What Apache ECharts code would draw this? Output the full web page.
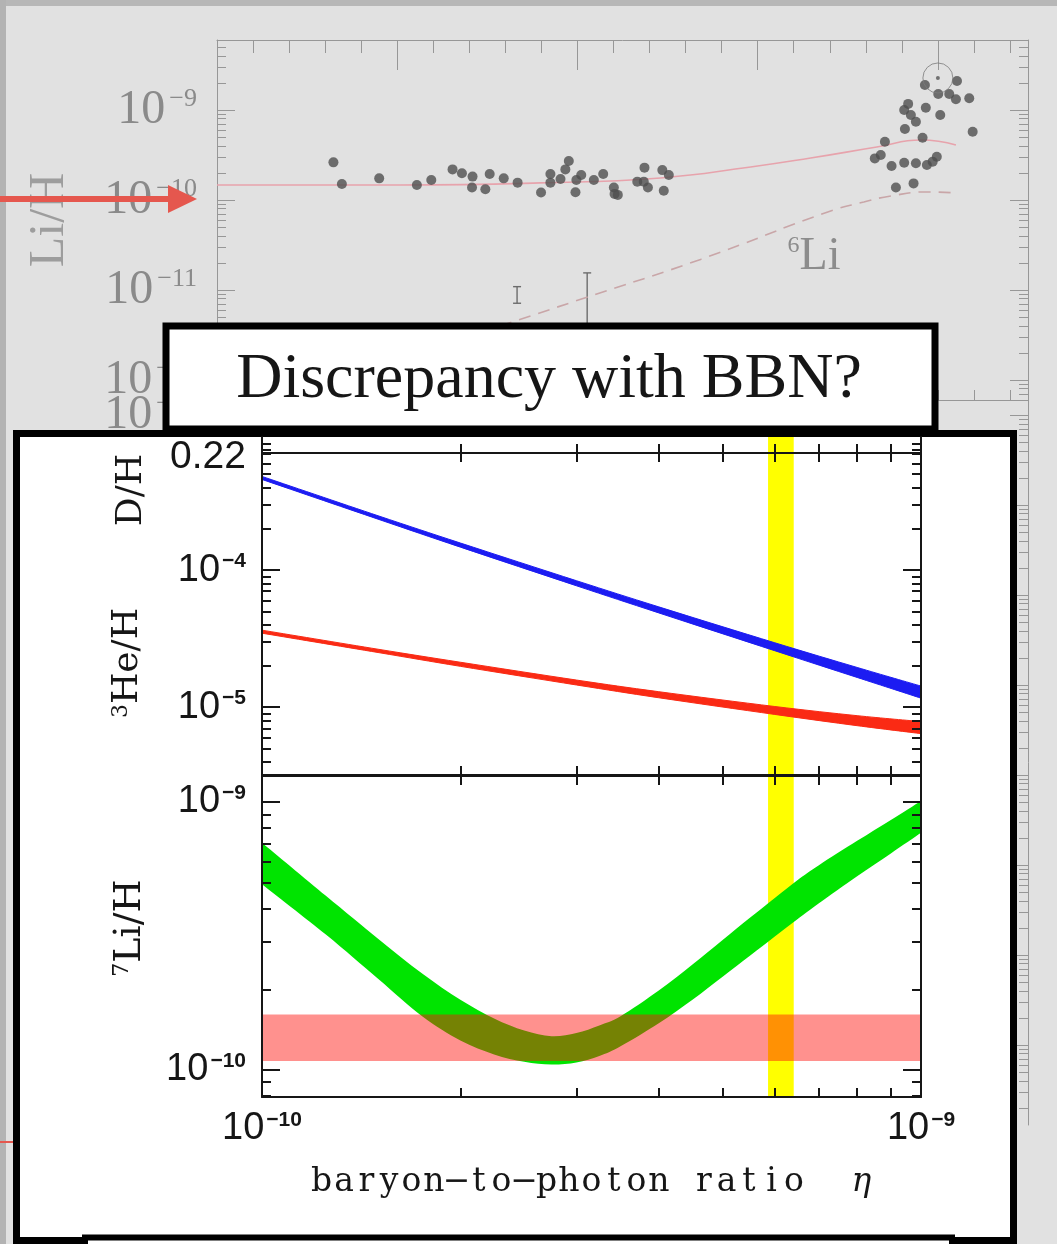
<!DOCTYPE html>
<html>
<head>
<meta charset="UTF-8">
<title>Discrepancy with BBN?</title>
<script src="https://cdn.jsdelivr.net/npm/echarts@6/dist/echarts.min.js"></script>
<style>
  html, body { margin: 0; padding: 0; background: #e1e1e1; }
  #chart { width: 1057px; height: 1244px; }
</style>
</head>
<body>
<div id="chart"></div>
<script>
// ---- background plot: Li/H in halo stars vs [Fe/H] ----
var starFe = [-3.354, -3.307, -3.100, -2.891, -2.811, -2.693, -2.641, -2.582, -2.585, -2.511,
  -2.487, -2.409, -2.332, -2.202, -2.150, -2.150, -2.094, -2.067, -2.048, -2.011,
  -2.006, -1.979, -1.909, -1.857, -1.798, -1.794, -1.776, -1.668, -1.628, -1.609,
  -1.521, -1.529, -1.493, -1.632,
  -0.072, 0.106, 0.002, 0.063, 0.100, 0.174, -0.165, -0.187, -0.150, -0.122,
  -0.067, 0.013, -0.183, -0.085, 0.193, -0.294, -0.317, -0.350, -0.257, -0.187,
  -0.122, -0.061, -0.029, -0.006, -0.233, -0.135];
var starLi = [2.62e-10, 1.51e-10, 1.74e-10, 1.47e-10, 1.67e-10, 2.19e-10, 1.98e-10, 1.82e-10, 1.38e-10, 1.32e-10,
  1.95e-10, 1.74e-10, 1.56e-10, 1.21e-10, 1.95e-10, 1.56e-10, 1.71e-10, 2.19e-10, 2.71e-10, 1.22e-10,
  1.67e-10, 1.90e-10, 1.67e-10, 1.95e-10, 1.38e-10, 1.17e-10, 1.14e-10, 1.60e-10, 2.29e-10, 1.38e-10,
  1.27e-10, 2.15e-10, 1.90e-10, 1.60e-10,
  1.90e-9, 2.10e-9, 1.51e-9, 1.51e-9, 1.32e-9, 1.35e-9, 1.17e-9, 1.00e-9, 8.80e-10, 7.41e-10,
  1.06e-9, 8.80e-10, 6.15e-10, 4.92e-10, 5.74e-10, 4.45e-10, 3.16e-10, 2.90e-10, 2.39e-10, 2.60e-10,
  2.56e-10, 2.45e-10, 2.67e-10, 3.03e-10, 1.38e-10, 1.53e-10];
var plateauFe = [-4.0, -2.983, -2.206, -1.539, -1.039, -0.706, -0.339, -0.094, 0.100];
var plateauLi = [1.47e-10, 1.47e-10, 1.55e-10, 1.76e-10, 2.33e-10, 2.93e-10, 3.88e-10, 4.64e-10, 4.08e-10];
var li6Fe = [-2.428, -1.956, -1.317, -0.611, -0.411, -0.261, -0.056, 0.100];
var li6Li = [3.98e-12, 8.21e-12, 2.19e-11, 7.36e-11, 9.50e-11, 1.11e-10, 1.23e-10, 1.20e-10];
var limitFe = [-2.335, -1.946];
var limitLo = [7.13e-12, 3.6e-12];
var limitHi = [1.09e-11, 1.55e-11];
var sunFe = [0.0];
var sunLi = [2.27e-9];
var topTickLabels = [1e-9, 1e-10, 1e-11, 1e-12];

// ---- BBN predictions vs baryon-to-photon ratio ----
var etaDHe = [1.0e-10, 1.5e-10, 2.0e-10, 3.0e-10, 4.0e-10, 6.0e-10, 8.0e-10, 1.0e-9];
var dhHi = [4.819e-4, 2.489e-4, 1.574e-4, 8.356e-5, 5.383e-5, 2.944e-5, 1.945e-5, 1.422e-5];
var dhLo = [4.581e-4, 2.350e-4, 1.469e-4, 7.674e-5, 4.864e-5, 2.576e-5, 1.644e-5, 1.161e-5];
var he3Hi = [3.639e-5, 2.642e-5, 2.123e-5, 1.574e-5, 1.294e-5, 1.009e-5, 8.650e-6, 7.834e-6];
var he3Lo = [3.459e-5, 2.500e-5, 1.982e-5, 1.449e-5, 1.169e-5, 8.831e-6, 7.311e-6, 6.397e-6];
var etaLi = [1.0e-10, 1.25e-10, 1.5e-10, 1.75e-10, 2.0e-10, 2.25e-10, 2.5e-10, 2.75e-10, 3.0e-10, 3.25e-10,
  3.5e-10, 4.0e-10, 4.5e-10, 5.0e-10, 5.5e-10, 6.0e-10, 6.5e-10, 7.0e-10, 8.0e-10, 9.0e-10, 1.0e-9];
var li7Hi = [7.047e-10, 4.467e-10, 3.090e-10, 2.291e-10, 1.828e-10, 1.556e-10, 1.403e-10, 1.337e-10, 1.374e-10, 1.466e-10,
  1.585e-10, 1.977e-10, 2.472e-10, 3.055e-10, 3.698e-10, 4.385e-10, 5.117e-10, 5.808e-10, 7.161e-10, 8.570e-10, 1.009e-9];
var li7Lo = [4.932e-10, 3.199e-10, 2.188e-10, 1.585e-10, 1.288e-10, 1.143e-10, 1.072e-10, 1.047e-10, 1.067e-10, 1.127e-10,
  1.225e-10, 1.493e-10, 1.828e-10, 2.228e-10, 2.667e-10, 3.148e-10, 3.656e-10, 4.188e-10, 5.284e-10, 6.427e-10, 7.674e-10];
var obsLi = [1.08e-10, 1.61e-10];     // observed plateau band
var etaCMB = [5.86e-10, 6.41e-10];    // CMB band
var etaTickLabels = [1e-10, 1e-9];
var dhTickLabels = [1e-4, 1e-5];
var liTickLabels = [1e-9, 1e-10];
var heTickLabels = [0.22];

var lg = function (v) { return Math.round(Math.log10(v) * 1e6) / 1e6; };
var MINOR_K = [2, 3, 4, 5, 6, 7, 8, 9];

function decadeTicks(lo, hi, ks) {
  var out = [];
  for (var n = Math.floor(lo) - 1; n <= Math.ceil(hi); n++) {
    ks.forEach(function (k) {
      var v = Math.round((n + Math.log10(k)) * 1e6) / 1e6;
      if (v >= lo - 1e-9 && v <= hi + 1e-9) out.push(v);
    });
  }
  return out;
}
function powLabel(v) { return '{b|10}{e|\u2212' + Math.round(-v) + '}'; }

// smooth path through screen points (Catmull-Rom as cubic Bezier)
function f2(v) { return v.toFixed(2); }
function spline(p, cmd) {
  var s = cmd + f2(p[0][0]) + ' ' + f2(p[0][1]);
  for (var i = 0; i < p.length - 1; i++) {
    var a = p[i - 1] || p[i], b = p[i], c = p[i + 1], d = p[i + 2] || c;
    s += ' C' + f2(b[0] + (c[0] - a[0]) / 6) + ' ' + f2(b[1] + (c[1] - a[1]) / 6) + ' ' +
      f2(c[0] - (d[0] - b[0]) / 6) + ' ' + f2(c[1] - (d[1] - b[1]) / 6) + ' ' + f2(c[0]) + ' ' + f2(c[1]);
  }
  return s;
}
function bandSeries(x, lo, hi, xi, yi, color, edge, z) {
  return {
    type: 'custom', xAxisIndex: xi, yAxisIndex: yi, z: z,
    data: x.map(function (e, i) { return [lg(e), lg(lo[i]), lg(hi[i])]; }),
    encode: { x: 0, y: [1, 2] },
    renderItem: function (params, api) {
      if (params.dataIndexInside !== 0) return null;
      var up = [], dn = [];
      for (var i = 0; i < params.dataInsideLength; i++) {
        up.push(api.coord([api.value(0, i), api.value(2, i)]));
        dn.push(api.coord([api.value(0, i), api.value(1, i)]));
      }
      return { type: 'path', shape: { pathData: spline(up, 'M') + ' ' + spline(dn.reverse(), 'L') + ' Z' },
        style: { fill: color, stroke: edge ? color : null, lineWidth: edge || 0 } };
    }
  };
}

var GRAY = '#979797';
var INK = '#161616';
var topRich = {
  b: { fontFamily: 'Liberation Serif', fontSize: 48, color: '#8a8a8a', verticalAlign: 'bottom' },
  e: { fontFamily: 'Liberation Serif', fontSize: 26, color: '#8a8a8a', verticalAlign: 'top', padding: [0, 0, 0, 4] }
};
var mainRich = {
  b: { fontFamily: 'Liberation Sans', fontSize: 38, color: INK, verticalAlign: 'bottom' },
  e: { fontFamily: 'Liberation Sans', fontSize: 21, fontWeight: 'bold', color: INK, verticalAlign: 'top', padding: [0, 0, 0, 2] }
};
var xRich = {
  b: { fontFamily: 'Liberation Sans', fontSize: 38, color: INK, verticalAlign: 'bottom' },
  e: { fontFamily: 'Liberation Sans', fontSize: 21, fontWeight: 'bold', color: INK, verticalAlign: 'top', padding: [0, 0, 0, 2] }
};
var heRich = { b: { fontFamily: 'Liberation Sans', fontSize: 39, color: INK, padding: [8, 0, 0, 0] } };

function axis(o) {
  var a = {
    type: 'value', gridIndex: o.grid, position: o.pos, min: o.min, max: o.max, z: o.z,
    axisLine: { show: o.line !== false, onZero: false, lineStyle: { color: o.color, width: o.lw } },
    axisTick: { show: !!o.ticks, inside: true, length: o.len, customValues: o.ticks,
      lineStyle: { color: o.color, width: o.tw || o.lw } },
    axisLabel: { show: false },
    splitLine: { show: false }
  };
  if (o.labels) {
    a.axisLabel = { show: true, customValues: o.labels, margin: o.margin, formatter: o.fmt || powLabel,
      rich: o.rich };
  }
  return a;
}

// tick positions
var feMajor = [-4, -3, -2, -1, 0];
var feMinor = [];
for (var i = -20; i <= 2; i++) { if (i % 5 !== 0) feMinor.push(Math.round(i * 0.2 * 10) / 10); }
var etaTicks = [1, 2, 3, 4, 5, 6, 7, 8, 9, 10].map(function (k) { return lg(k * 1e-10); });
var g0Y = [-12.222, -8.222], g1Y = [-17.889, -9.833];
var dhY = [-5.496, -3.146], liY = [-10.101, -8.903], heY = [0.22, 0.2225], etaX = [-10, -9];

var xAxes = [
  axis({ grid: 0, pos: 'top', min: -4, max: 0.5, z: 1, color: GRAY, lw: 1, ticks: feMajor, len: 30 }),
  axis({ grid: 0, pos: 'top', min: -4, max: 0.5, z: 1, color: GRAY, lw: 1, line: false, ticks: feMinor, len: 13 }),
  axis({ grid: 0, pos: 'bottom', min: -4, max: 0.5, z: 1, color: GRAY, lw: 1, ticks: feMinor.concat(feMajor), len: 10 }),
  { type: 'value', gridIndex: 1, min: 0, max: 1, show: false },
  axis({ grid: 2, pos: 'bottom', min: etaX[0], max: etaX[1], z: 15, color: INK, lw: 2, ticks: etaTicks, len: 9 }),
  axis({ grid: 3, pos: 'top', min: etaX[0], max: etaX[1], z: 15, color: INK, lw: 2, ticks: etaTicks, len: 9 }),
  axis({ grid: 3, pos: 'bottom', min: etaX[0], max: etaX[1], z: 15, color: INK, lw: 2, ticks: etaTicks, len: 9 }),
  axis({ grid: 4, pos: 'top', min: etaX[0], max: etaX[1], z: 15, color: INK, lw: 2, ticks: etaTicks, len: 9 }),
  axis({ grid: 4, pos: 'bottom', min: etaX[0], max: etaX[1], z: 15, color: INK, lw: 2, ticks: etaTicks, len: 9,
    labels: etaTickLabels.map(lg), margin: 13, rich: xRich })
];
var xTitle = 'baryon\u2212to\u2212photon ratio  ';
xAxes[8].name = xTitle.split('').map(function (c) { return '{m|' + c + '}'; }).join('') + '{g|\u03b7}';
xAxes[8].nameLocation = 'middle';
xAxes[8].nameGap = 69;
xAxes[8].nameTextStyle = { rich: {
  m: { width: 22.5, align: 'center', fontFamily: 'DejaVu Serif', fontSize: 33, color: INK },
  g: { width: 22.5, align: 'center', fontFamily: 'DejaVu Serif', fontStyle: 'italic', fontSize: 33, color: INK }
} };

var yAxes = [
  axis({ grid: 0, pos: 'left', min: g0Y[0], max: g0Y[1], z: 1, color: GRAY, lw: 1, ticks: topTickLabels.map(lg), len: 18,
    labels: topTickLabels.map(lg), margin: 20, rich: topRich }),
  axis({ grid: 0, pos: 'left', min: g0Y[0], max: g0Y[1], z: 1, color: GRAY, lw: 1, line: false, ticks: decadeTicks(g0Y[0], g0Y[1], MINOR_K), len: 9 }),
  axis({ grid: 0, pos: 'right', min: g0Y[0], max: g0Y[1], z: 1, color: GRAY, lw: 1, ticks: decadeTicks(g0Y[0], g0Y[1], [1]), len: 18 }),
  axis({ grid: 0, pos: 'right', min: g0Y[0], max: g0Y[1], z: 1, color: GRAY, lw: 1, line: false, ticks: decadeTicks(g0Y[0], g0Y[1], MINOR_K), len: 9 }),
  axis({ grid: 1, pos: 'left', min: g1Y[0], max: g1Y[1], z: 1, color: GRAY, lw: 1, ticks: decadeTicks(g1Y[0], g1Y[1], [1]), len: 18,
    labels: [-10], margin: 20, rich: topRich }),
  axis({ grid: 1, pos: 'right', min: g1Y[0], max: g1Y[1], z: 1, color: GRAY, lw: 1, ticks: decadeTicks(g1Y[0], g1Y[1], [1]), len: 18 }),
  axis({ grid: 1, pos: 'right', min: g1Y[0], max: g1Y[1], z: 1, color: GRAY, lw: 1, line: false, ticks: decadeTicks(g1Y[0], g1Y[1], MINOR_K), len: 9 }),
  axis({ grid: 2, pos: 'left', min: heY[0], max: heY[1], z: 15, color: INK, lw: 2, ticks: [0.2205, 0.2215], len: 9,
    labels: heTickLabels, margin: 16, fmt: function () { return '{b|0.22}'; }, rich: heRich }),
  axis({ grid: 2, pos: 'right', min: heY[0], max: heY[1], z: 15, color: INK, lw: 2, ticks: [0.2205, 0.2215], len: 9 }),
  axis({ grid: 3, pos: 'left', min: dhY[0], max: dhY[1], z: 15, color: INK, lw: 2, ticks: dhTickLabels.map(lg), len: 18,
    labels: dhTickLabels.map(lg), margin: 16, rich: mainRich }),
  axis({ grid: 3, pos: 'left', min: dhY[0], max: dhY[1], z: 15, color: INK, lw: 2, line: false, ticks: decadeTicks(dhY[0], dhY[1], MINOR_K), len: 9 }),
  axis({ grid: 3, pos: 'right', min: dhY[0], max: dhY[1], z: 15, color: INK, lw: 2, ticks: dhTickLabels.map(lg), len: 18 }),
  axis({ grid: 3, pos: 'right', min: dhY[0], max: dhY[1], z: 15, color: INK, lw: 2, line: false, ticks: decadeTicks(dhY[0], dhY[1], MINOR_K), len: 9 }),
  axis({ grid: 4, pos: 'left', min: liY[0], max: liY[1], z: 15, color: INK, lw: 2, ticks: liTickLabels.map(lg), len: 18,
    labels: liTickLabels.map(lg), margin: 16, rich: mainRich }),
  axis({ grid: 4, pos: 'left', min: liY[0], max: liY[1], z: 15, color: INK, lw: 2, line: false, ticks: decadeTicks(liY[0], liY[1], MINOR_K), len: 9 }),
  axis({ grid: 4, pos: 'right', min: liY[0], max: liY[1], z: 15, color: INK, lw: 2, ticks: liTickLabels.map(lg), len: 18 }),
  axis({ grid: 4, pos: 'right', min: liY[0], max: liY[1], z: 15, color: INK, lw: 2, line: false, ticks: decadeTicks(liY[0], liY[1], MINOR_K), len: 9 })
];
yAxes[0].name = 'Li/H';
yAxes[0].nameLocation = 'middle';
yAxes[0].nameRotate = 90;
yAxes[0].nameGap = 142;
yAxes[0].nameTextStyle = { fontFamily: 'Liberation Serif', fontSize: 50, color: '#9d9d9d' };

var BLUE = '#1c1cf2', RED = '#fa2a14', GREEN = '#00e400', YELLOW = '#ffff00';
function yellowArea() {
  return {
    silent: true, z: 11, label: { show: false }, itemStyle: { color: YELLOW, opacity: 1 },
    data: [[{ xAxis: lg(etaCMB[0]) }, { xAxis: lg(etaCMB[1]) }]]
  };
}

var series = [
  { type: 'line', xAxisIndex: 0, yAxisIndex: 0, z: 1, smooth: true, symbol: 'none',
    data: plateauFe.map(function (f, i) { return [f, lg(plateauLi[i])]; }),
    lineStyle: { color: '#e7a3ac', width: 1.6 } },
  { type: 'line', xAxisIndex: 0, yAxisIndex: 0, z: 1, smooth: true, symbol: 'none',
    data: li6Fe.map(function (f, i) { return [f, lg(li6Li[i])]; }),
    lineStyle: { color: '#c9a6a8', width: 1.6, type: [12, 8] } },
  { type: 'scatter', xAxisIndex: 0, yAxisIndex: 0, z: 1, symbolSize: 10,
    data: starFe.map(function (f, i) { return [f, lg(starLi[i])]; }),
    itemStyle: { color: '#4f4f4f' } },
  { type: 'custom', xAxisIndex: 0, yAxisIndex: 0, z: 1,
    data: limitFe.map(function (f, i) { return [f, lg(limitLo[i]), lg(limitHi[i])]; }),
    encode: { x: 0, y: [1, 2] },
    renderItem: function (params, api) {
      var lo = api.coord([api.value(0), api.value(1)]);
      var hi = api.coord([api.value(0), api.value(2)]);
      var st = { stroke: '#6c6c6c', lineWidth: 1.4 };
      return { type: 'group', children: [
        { type: 'line', shape: { x1: lo[0], y1: lo[1], x2: hi[0], y2: hi[1] }, style: st },
        { type: 'line', shape: { x1: lo[0] - 4, y1: lo[1], x2: lo[0] + 4, y2: lo[1] }, style: st },
        { type: 'line', shape: { x1: hi[0] - 4, y1: hi[1], x2: hi[0] + 4, y2: hi[1] }, style: st }
      ] };
    } },
  { type: 'scatter', xAxisIndex: 0, yAxisIndex: 0, z: 1, symbolSize: 30,
    data: sunFe.map(function (f, i) { return [f, lg(sunLi[i])]; }),
    itemStyle: { color: 'rgba(0,0,0,0)', borderColor: '#7a7a7a', borderWidth: 1 } },
  { type: 'scatter', xAxisIndex: 0, yAxisIndex: 0, z: 1, symbolSize: 4,
    data: sunFe.map(function (f, i) { return [f, lg(sunLi[i])]; }),
    itemStyle: { color: '#555' } },
  // yellow CMB band across the He sliver
  { type: 'line', xAxisIndex: 4, yAxisIndex: 7, data: [[lg(etaCMB[0]), 0.2201]], symbol: 'none',
    lineStyle: { width: 0 }, markArea: yellowArea() }
];
var dS = bandSeries(etaDHe, dhLo, dhHi, 6, 9, BLUE, 1, 12);
dS.markArea = yellowArea();
var hS = bandSeries(etaDHe, he3Lo, he3Hi, 6, 9, RED, 1, 12);
var lS = bandSeries(etaLi, li7Lo, li7Hi, 8, 13, GREEN, 0, 12);
lS.markArea = yellowArea();
var pinkS = { type: 'line', xAxisIndex: 8, yAxisIndex: 13, data: [[-9.5, lg(obsLi[0])]], symbol: 'none',
  lineStyle: { width: 0 },
  markArea: {
    silent: true, z: 14, label: { show: false }, itemStyle: { color: 'rgba(255,15,8,0.46)' },
    data: [[{ yAxis: lg(obsLi[0]) }, { yAxis: lg(obsLi[1]) }]]
  } };
series = series.concat([dS, hS, lS, pinkS]);

function tx(x, y, text, size, fam, rot, z, rich) {
  return { type: 'text', x: x, y: y, z: z, rotation: rot || 0,
    style: { text: text, fontSize: size, fontFamily: fam, fill: INK,
      align: 'center', verticalAlign: 'middle', textAlign: 'center', textVerticalAlign: 'middle', rich: rich } };
}
var supRich = function (big, small, fam, color) {
  return {
    s: { fontSize: small, fontFamily: fam, fill: color, verticalAlign: 'top' },
    b: { fontSize: big, fontFamily: fam, fill: color, verticalAlign: 'bottom' }
  };
};

var option = {
  animation: false,
  backgroundColor: '#e1e1e1',
  grid: [
    { left: 217, right: 29, top: 40, height: 360 },
    { left: 217, right: 29, top: 400, height: 725 },
    { left: 262, right: 136, top: 437, height: 16 },
    { left: 262, right: 136, top: 453, height: 322 },
    { left: 262, right: 136, top: 776, height: 321 }
  ],
  xAxis: xAxes,
  yAxis: yAxes,
  series: series,
  graphic: [
    { type: 'rect', z: 0, shape: { x: 0, y: 0, width: 1057, height: 6 }, style: { fill: '#b7b7b7' } },
    { type: 'rect', z: 0, shape: { x: 0, y: 0, width: 6, height: 1244 }, style: { fill: '#b3b3b3' } },
    { type: 'line', z: 6, shape: { x1: 0, y1: 199, x2: 174, y2: 199 }, style: { stroke: '#e5574e', lineWidth: 6 } },
    { type: 'polygon', z: 6, shape: { points: [[168, 185], [197, 199], [168, 213]] }, style: { fill: '#e5574e' } },
    { type: 'line', z: 0, shape: { x1: 0, y1: 1142, x2: 13, y2: 1142 }, style: { stroke: '#e5574e', lineWidth: 2 } },
    { type: 'rect', z: 5, shape: { x: 166, y: 326, width: 769, height: 103 }, style: { fill: '#fff', stroke: '#000', lineWidth: 7 } },
    { type: 'rect', z: 5, shape: { x: 16.5, y: 433.5, width: 997, height: 807 }, style: { fill: '#fff', stroke: '#000', lineWidth: 7 } },
    { type: 'rect', z: 5, shape: { x: 85, y: 1237.5, width: 867, height: 60 }, style: { fill: '#fff', stroke: '#000', lineWidth: 6 } },
    tx(549, 380, 'Discrepancy with BBN?', 64, 'Liberation Serif', 0, 6),
    tx(814, 257, '{s|6}{b|Li}', 0, 'Liberation Serif', 0, 2, supRich(46, 24, 'Liberation Serif', '#8c8c8c')),
    tx(132, 490, 'D/H', 36, 'DejaVu Serif', Math.PI / 2, 16),
    tx(128, 663, '{s|3}{b|He/H}', 0, 'DejaVu Serif', Math.PI / 2, 16, supRich(36, 22, 'DejaVu Serif', INK)),
    tx(130, 928, '{s|7}{b|Li/H}', 0, 'DejaVu Serif', Math.PI / 2, 16, supRich(38, 22, 'DejaVu Serif', INK))
  ]
};

var chart = echarts.init(document.getElementById('chart'));
chart.setOption(option);
</script>
</body>
</html>
